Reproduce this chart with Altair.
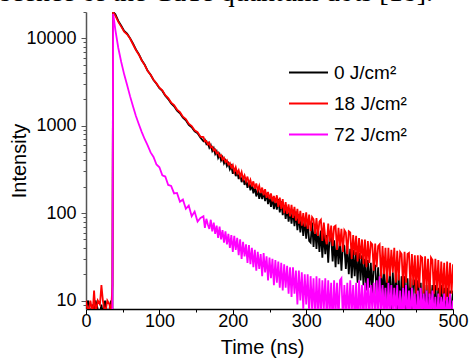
import altair as alt
import pandas as pd

# ---- data ----
time_ns = ([0, 3, 6, 9, 11, 13, 16, 19, 21, 23, 26, 29, 32, 34, 36, 37]
           + list(range(40, 157, 4)) + list(range(160, 501, 2)))

black_0 = [8, 10, 7, 9, 7, 10, 8, 7, 9, 7, 10, 7, 8, 10, 7, 20000,
           # 40..156 step 4
           18800, 15800, 13900, 12150, 11300, 10050, 8720, 7450, 6600, 5620,
           4980, 4250, 3830, 3330, 3020, 2690, 2500, 2200, 2020, 1795,
           1670, 1485, 1390, 1235, 1155, 1025, 960, 862, 818, 731,
           # 160..500 step 2
           665, 690, 615, 640, 560, 600, 515, 555, 475, 510,
           430, 470, 400, 435, 370, 400, 345, 372, 318, 345,
           282, 325, 265, 300, 245, 280, 226, 262, 210, 240,
           195, 232, 182, 218, 168, 200, 155, 192, 146, 175,
           145, 180, 137, 170, 127, 158, 118, 150, 111, 139,
           110, 145, 102, 136, 95, 123, 86, 117, 80, 108,
           76, 110, 71, 104, 64, 97, 60, 90, 55, 85,
           51, 83, 48, 46, 78, 41, 71, 39, 67, 36,
           63, 31, 60, 34, 56, 27, 55, 54, 28, 49,
           24, 51, 26, 46, 22, 44, 42, 23, 42, 20,
           39, 18, 38, 19, 36, 16, 35, 17, 33, 15,
           30, 13, 29, 14, 27, 12, 26, 25, 11, 24,
           10, 23, 11, 22, 9, 22, 10, 21, 8, 21,
           9, 20, 8, 20, 7, 19, 9, 19, 6, 18,
           8, 18, 7, 17, 17, 6, 17, 8, 16, 6,
           16, 7, 15, 6, 16, 8, 15, 6, 15, 7,
           14, 6, 15, 7, 14, 5, 14, 7, 13, 6,
           13]

red_18 = [10, 7, 10, 7, 13, 7, 10, 9, 15, 10, 7, 10, 9, 7, 15, 19800,
          18200, 15400, 13600, 11900, 11100, 9950, 8560, 7350, 6500, 5580,
          4940, 4230, 3830, 3360, 3050, 2720, 2540, 2240, 2070, 1840,
          1720, 1530, 1430, 1270, 1190, 1055, 990, 885, 845, 750,
          740, 660, 670, 610, 640, 565, 575, 520, 535, 480,
          495, 445, 462, 410, 430, 385, 402, 360, 375, 332,
          355, 298, 335, 285, 310, 262, 295, 245, 270, 232,
          262, 215, 240, 202, 231, 190, 218, 182, 205, 170,
          196, 160, 188, 150, 175, 145, 168, 136, 157, 130,
          160, 118, 150, 112, 145, 100, 134, 98, 126, 92,
          124, 88, 118, 82, 112, 76, 106, 72, 100, 70,
          102, 66, 96, 62, 90, 85, 58, 88, 55, 80,
          84, 48, 78, 52, 44, 76, 47, 72, 42, 70,
          72, 38, 68, 42, 66, 36, 64, 60, 34, 62,
          60, 30, 56, 33, 55, 28, 52, 30, 50, 26,
          50, 24, 48, 27, 46, 44, 22, 45, 24, 42,
          44, 18, 42, 20, 40, 16, 40, 19, 38, 21,
          40, 16, 37, 17, 36, 34, 14, 36, 16, 34,
          35, 14, 34, 15, 33, 12, 33, 14, 32, 31,
          12, 32, 13, 30, 11, 31, 29, 12, 30, 13,
          29, 11, 28, 12, 27, 10, 28, 11, 27, 12,
          26]

magenta_72 = [7, 7, 7, 7, 7, 7, 7, 7, 7, 7, 7, 7, 7, 7, 7, 19000,
              12500, 7750, 5350, 3870, 2930, 2180, 1670, 1290, 1040, 845,
              700, 595, 495, 440, 360, 335, 270, 262, 210, 205,
              168, 170, 135, 143, 112, 122, 92, 104, 80, 88,
              92, 68, 86, 74, 66, 84, 62, 78, 58, 72,
              52, 70, 50, 64, 46, 62, 44, 58, 40, 56,
              36, 55, 38, 52, 33, 50, 30, 47, 32, 44,
              27, 43, 26, 40, 24, 38, 22, 36, 23, 34,
              19, 35, 21, 32, 17, 31, 18, 30, 15, 29,
              16, 28, 14, 27, 13, 26, 14, 25, 12, 24,
              11, 24, 12, 22, 9, 22, 10, 21, 8, 20,
              9, 20, 7, 19, 8, 18, 6, 19, 7, 18,
              6, 17, 8, 18, 6, 17, 7, 16, 5, 17,
              7, 16, 6, 17, 18, 6, 15, 7, 16, 6,
              17, 7, 15, 6, 16, 5, 17, 7, 15, 6,
              16, 7, 18, 6, 15, 8, 16, 6, 17, 7,
              19, 6, 15, 7, 14, 5, 16, 7, 15, 6,
              14, 7, 15, 6, 13, 5, 14, 7, 15, 6,
              13, 6, 14, 7, 12, 5, 13, 6, 14, 7,
              12, 6, 13, 5, 12, 7, 13, 6, 11, 5,
              12, 6, 11, 7, 12, 5, 11, 6, 12, 5,
              10]

series_names = ["0 J/cm\u00b2", "18 J/cm\u00b2", "72 J/cm\u00b2"]
series_colors = ["#000000", "#FF0000", "#FF00FF"]

x_ticks = [0, 50, 100, 150, 200, 250, 300, 350, 400, 450, 500]
y_ticks = [9, 10, 20, 30, 40, 50, 60, 70, 80, 90,
           100, 200, 300, 400, 500, 600, 700, 800, 900,
           1000, 2000, 3000, 4000, 5000, 6000, 7000, 8000, 9000,
           10000, 20000]
caption = "fluorescence of the CdTe quantum dots [18]."

frames = []
for name, vals in zip(series_names, [black_0, red_18, magenta_72]):
    frames.append(pd.DataFrame({"Time": time_ns, "Intensity": vals, "series": name}))

FONT = "Liberation Sans"

x_enc = alt.X("Time:Q", scale=alt.Scale(domain=[0, 500], nice=False),
              axis=alt.Axis(values=x_ticks, title="Time (ns)", grid=False,
                            labelExpr="datum.value % 100 === 0 ? datum.label : ''",
                            tickSize={"condition": {"test": "datum.value % 100 === 0", "value": 5}, "value": 3},
                            tickColor="#000000", domainColor="#000000", domainWidth=1.5,
                            labelFont=FONT, labelFontSize=18, labelColor="#000000",
                            labelPadding=-2, titleFont=FONT, titleFontSize=20,
                            titleFontWeight="normal", titleColor="#000000",
                            titlePadding=7, titleX=176, labelFlush=False))
y_enc = alt.Y("Intensity:Q", scale=alt.Scale(type="log", domain=[8, 20000], nice=False),
              axis=alt.Axis(values=y_ticks, title="Intensity", grid=False, format="d",
                            labelExpr="indexof([10,100,1000,10000], datum.value) >= 0 ? datum.label : ''",
                            tickSize={"condition": {"test": "indexof([10,100,1000,10000], datum.value) >= 0", "value": 5}, "value": 3},
                            tickColor="#555555", domainColor="#555555", domainWidth=1.5,
                            labelFont=FONT, labelFontSize=18, labelColor="#000000",
                            labelPadding=5, titleFont=FONT, titleFontSize=20,
                            titleFontWeight="normal", titleColor="#000000",
                            titleX=-57, labelFlush=False))
color_enc = alt.Color("series:N",
                      scale=alt.Scale(domain=series_names, range=series_colors),
                      legend=alt.Legend(title=None, orient="none", legendX=202, legendY=40,
                                        symbolType="stroke", symbolSize=1521,
                                        symbolStrokeWidth=2, labelFont=FONT,
                                        labelFontSize=19, labelColor="#000000",
                                        labelOffset=5, rowPadding=0, padding=0))

layers = [alt.Chart(df).mark_line(strokeWidth=1.8, clip=True, interpolate="linear").encode(
    x=x_enc, y=y_enc, color=color_enc) for df in frames]

chart = alt.layer(*layers).properties(
    width=367, height=297,
    autosize=alt.AutoSizeParams(type="none"),
    padding={"left": 86, "top": 12, "right": 16, "bottom": 51},
    title=alt.TitleParams(caption, font="Liberation Serif", fontSize=28,
                          fontWeight="normal", color="#000000", anchor="end",
                          frame="group", dx=-20, dy=21, offset=4, baseline="alphabetic"),
).configure_view(stroke=None)

chart.save("out.html", embed_options={"renderer": "svg", "actions": False})
